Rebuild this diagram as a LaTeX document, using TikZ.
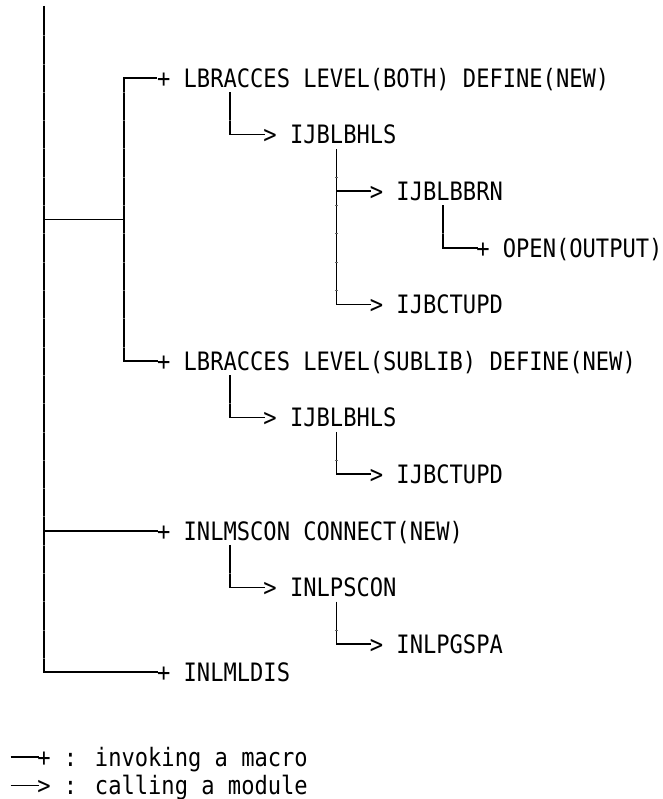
\documentclass[tikz,border=0pt]{standalone}
\usepackage{fontspec}
\newfontfamily\treefont[FakeStretch=0.872]{DejaVu Sans Mono}

\begin{document}
\begin{tikzpicture}[x=9.975pt, y=-21.225pt, every node/.style={inner sep=0pt, outer sep=0pt, anchor=west, minimum height=21.225pt, text height=13.9pt, text depth=0pt, font=\treefont\fontsize{19pt}{21pt}\selectfont}, link/.style={line width=1.3pt, shorten >=-1pt}, tick/.style={line width=0.4pt, black!60}]
        \useasboundingbox (-3.308,-0.756) rectangle (46.466,27.475);

        % calls, one text row per line
        \node (lbrboth) at (8.5,2) {+ LBRACCES LEVEL(BOTH) DEFINE(NEW)};
        \node (hlsboth) at (16.5,4) {> IJBLBHLS};
        \node (bbrn) at (24.5,6) {> IJBLBBRN};
        \node (open) at (32.5,8) {+ OPEN(OUTPUT)};
        \node (ctupdboth) at (24.5,10) {> IJBCTUPD};
        \node (lbrsub) at (8.5,12) {+ LBRACCES LEVEL(SUBLIB) DEFINE(NEW)};
        \node (hlssub) at (16.5,14) {> IJBLBHLS};
        \node (ctupdsub) at (24.5,16) {> IJBCTUPD};
        \node (mscon) at (8.5,18) {+ INLMSCON CONNECT(NEW)};
        \node (pscon) at (16.5,20) {> INLPSCON};
        \node (pgspa) at (24.5,22) {> INLPGSPA};
        \node (mldis) at (8.5,23) {+ INLMLDIS};

        % legend
        \node (legmacro) at (-0.5,26) {+ : invoking a macro};
        \node (legmodule) at (-0.5,27) {> : calling a module};
        \coordinate (lgmacro) at (-2.5,26);
        \coordinate (lgmodule) at (-2.5,27);

        % trunk
        \coordinate (top) at (0,-0.55);
        \coordinate (split) at (6,7);
        \draw[link] (top) |- (mldis.west);
        \draw[link] (top |- split) -- (split);
        \draw[link] (lbrboth.west) -| (split) |- (lbrsub.west);
        \draw[link] (top |- mscon.west) -- (mscon.west);

        % sub calls
        \draw[link] ([shift={(5.5,0)}]lbrboth.south west) |- (hlsboth.west);
        \draw[link] ([shift={(5.5,0)}]hlsboth.south west) coordinate (hlsdown) |- (ctupdboth.west);
        \draw[link] (hlsdown |- bbrn.west) -- (bbrn.west);
        \draw[link] ([shift={(5.5,0)}]bbrn.south west) |- (open.west);
        \draw[link] ([shift={(5.5,0)}]lbrsub.south west) |- (hlssub.west);
        \draw[link] ([shift={(5.5,0)}]hlssub.south west) |- (ctupdsub.west);
        \draw[link] ([shift={(5.5,0)}]mscon.south west) |- (pscon.west);
        \draw[link] ([shift={(5.5,0)}]pscon.south west) |- (pgspa.west);

        \draw[link] (lgmacro) -- (legmacro.west);
        \draw[link] (lgmodule) -- (legmodule.west);

        % row marks on the vertical lines
        \foreach \c/\a/\b in {0/0/22, 6/2/11, 14/3/3, 22/5/9, 30/7/7, 14/13/13, 22/15/15, 14/19/19, 22/21/21}
            \foreach \r in {\a,...,\b}
                \draw[tick] (\c-0.09,\r+0.5) -- (\c+0.09,\r+0.5);
    \end{tikzpicture}
\end{document}
